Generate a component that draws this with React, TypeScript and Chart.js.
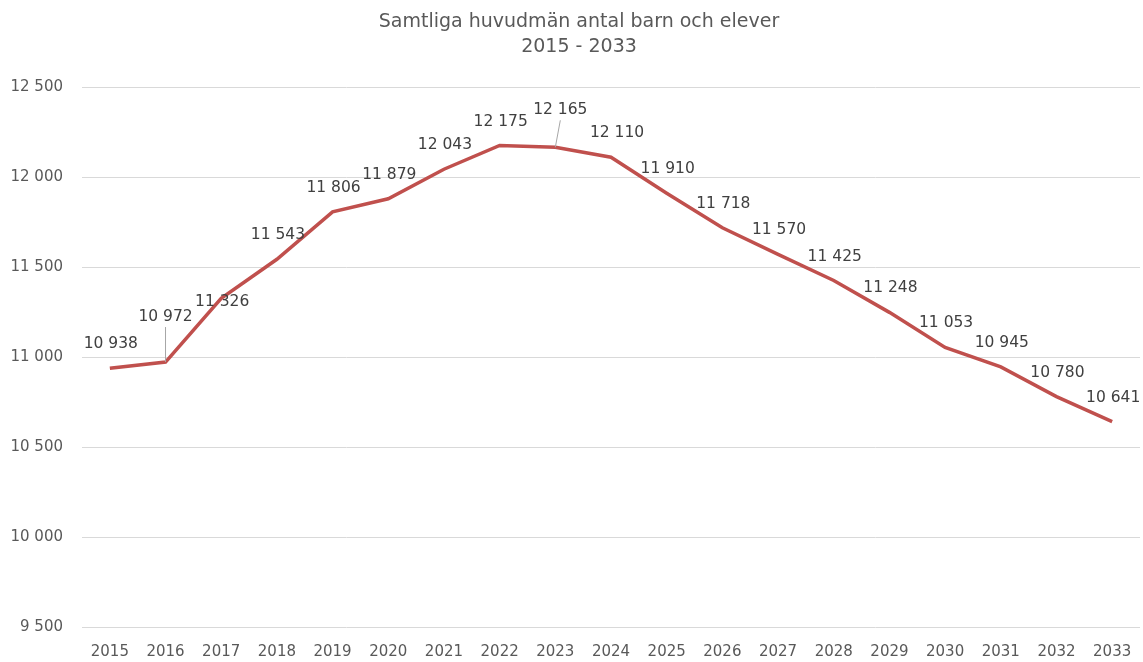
import React, { useEffect, useRef } from "react";
import { Chart, registerables } from "chart.js";

Chart.register(...registerables);

const years = ["2015","2016","2017","2018","2019","2020","2021","2022","2023","2024","2025","2026","2027","2028","2029","2030","2031","2032","2033"];
const pupils = [10938,10972,11326,11543,11806,11879,12043,12175,12165,12110,11910,11718,11570,11425,11248,11053,10945,10780,10641];
const titleLines = ["Samtliga huvudmän antal barn och elever", "2015 - 2033"];

const FONT = "'DejaVu Sans', sans-serif";
const fmt = (v: number) => String(Math.round(v)).replace(/\B(?=(\d{3})+(?!\d))/g, " ");

const labelPlugin = {
  id: "labels",
  afterDatasetsDraw(chart: any) {
    const ctx = chart.ctx;
    const meta = chart.getDatasetMeta(0);
    ctx.save();
    ctx.font = `15.5px ${FONT}`;
    ctx.fillStyle = "#404040";
    ctx.textAlign = "center";
    ctx.textBaseline = "middle";
    meta.data.forEach((pt: any, i: number) => {
      let dx = 1;
      let dy = -24;
      let leader = false;
      if (i === 1) { dx = 0; dy = -45; leader = true; }
      if (i === 8) { dx = 5; dy = -37; leader = true; }
      if (i === 9) { dx = 6; }
      if (i === 2) { dy = 4; }
      const lx = pt.x + dx;
      const ly = pt.y + dy;
      if (leader) {
        ctx.strokeStyle = "#A6A6A6";
        ctx.lineWidth = 1;
        ctx.beginPath();
        ctx.moveTo(pt.x, pt.y);
        ctx.lineTo(lx, ly + 10);
        ctx.stroke();
      }
      ctx.fillText(fmt(pupils[i]), lx, ly);
    });
    ctx.restore();
  },
};

const titlePlugin = {
  id: "customTitle",
  afterDraw(chart: any) {
    const ctx = chart.ctx;
    ctx.save();
    ctx.font = `19px ${FONT}`;
    ctx.fillStyle = "#595959";
    ctx.textAlign = "center";
    ctx.textBaseline = "middle";
    ctx.fillText(titleLines[0], 579, 22);
    ctx.fillText(titleLines[1], 579, 47);
    ctx.restore();
  },
};

export default function App() {
  const ref = useRef<HTMLCanvasElement>(null);
  useEffect(() => {
    document.body.style.margin = "0";
    const chart = new Chart(ref.current!, {
      type: "line",
      data: {
        labels: years,
        datasets: [{
          data: pupils,
          borderColor: "#C0504D",
          borderWidth: 3.5,
          pointRadius: 0,
          tension: 0,
          fill: false,
        }],
      },
      options: {
        responsive: false,
        animation: false,
        layout: { padding: { top: 87, right: 3, left: 0, bottom: 0 } },
        plugins: { legend: { display: false }, title: { display: false }, tooltip: { enabled: false } },
        scales: {
          x: {
            offset: true,
            grid: { display: false, drawTicks: false },
            border: { display: false },
            ticks: { color: "#595959", font: { family: FONT, size: 15 }, padding: 16, maxRotation: 0 },
            afterFit: (s: any) => { s.height = 35; s.paddingRight = 0; s.paddingLeft = 0; },
          },
          y: {
            min: 9500,
            max: 12500,
            grid: { color: "#D9D9D9", lineWidth: 1, drawTicks: false },
            border: { display: false },
            ticks: { stepSize: 500, color: "#595959", font: { family: FONT, size: 15 }, padding: 19, callback: (v: any) => fmt(Number(v)) },
            afterFit: (s: any) => { s.width = 82; },
          },
        },
      },
      plugins: [labelPlugin, titlePlugin],
    });
    return () => chart.destroy();
  }, []);
  return (
    <div style={{ position: "absolute", left: 0, top: 0, width: 1143, height: 662, background: "#fff" }}>
      <canvas ref={ref} width={1143} height={662} style={{ width: 1143, height: 662 }} />
    </div>
  );
}
